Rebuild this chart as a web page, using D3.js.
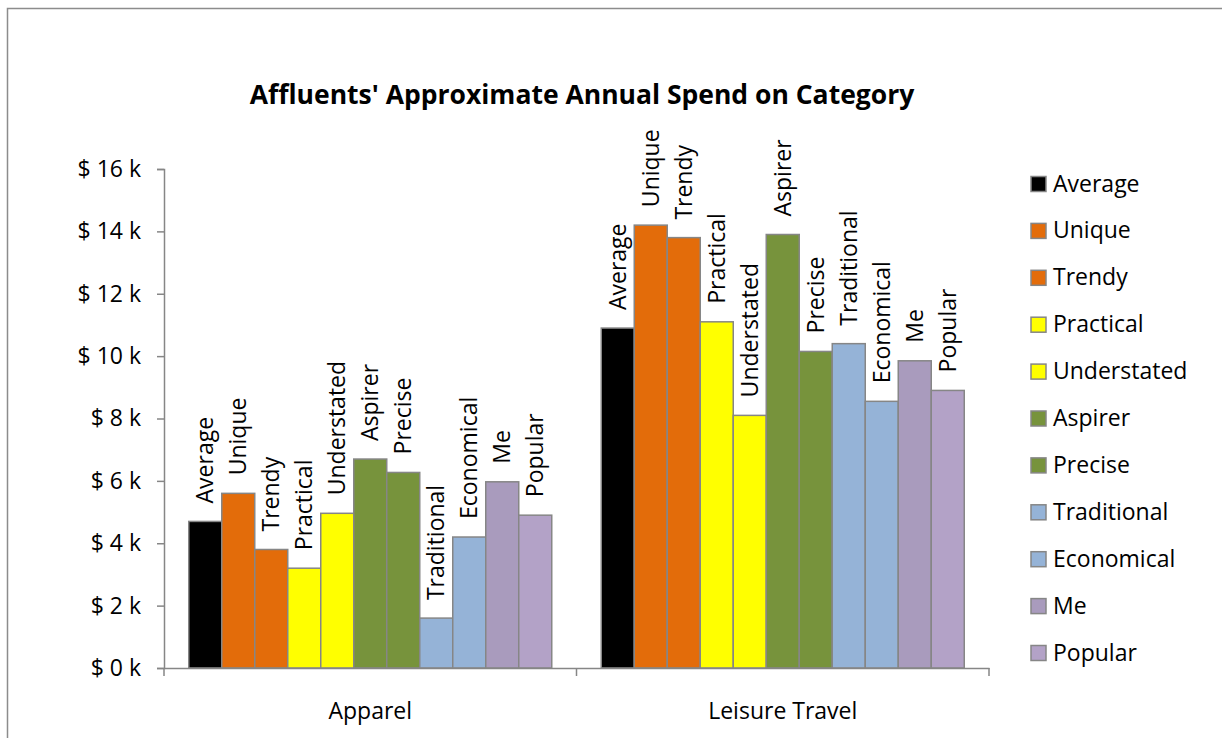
<!DOCTYPE html>
<html>
<head>
<meta charset="utf-8">
<script src="https://cdn.jsdelivr.net/npm/d3@7"></script>
<style>
  html, body { margin: 0; padding: 0; background: #fff; }
  svg { display: block; font-family: "Open Sans", "Noto Sans", sans-serif; }
</style>
</head>
<body>
<svg id="chart" width="1222" height="738"></svg>
<script>
// Spend per affluent segment, in thousands of dollars
const categories = ["Apparel", "Leisure Travel"];
const segments = ["Average", "Unique", "Trendy", "Practical", "Understated", "Aspirer",
                  "Precise", "Traditional", "Economical", "Me", "Popular"];
const apparelSpend = [4.7, 5.6, 3.8, 3.2, 4.96, 6.7, 6.27, 1.6, 4.2, 5.97, 4.9];
const leisureSpend = [10.9, 14.2, 13.8, 11.1, 8.1, 13.9, 10.15, 10.4, 8.55, 9.85, 8.9];
const segmentColors = ["#000000", "#E36C0A", "#E36C0A", "#FFFF00", "#FFFF00", "#77933C",
                       "#77933C", "#95B3D7", "#95B3D7", "#A99BBD", "#B3A2C7"];
const yTicks = [0, 2, 4, 6, 8, 10, 12, 14, 16];

const spendByCategory = [apparelSpend, leisureSpend];
const rows = [];
categories.forEach((c, ci) => {
  segments.forEach((s, si) => rows.push({ category: c, segment: s, value: spendByCategory[ci][si], color: segmentColors[si] }));
});

const svg = d3.select("#chart");
const axisGrey = "#868686";
const fontSize = 23;

// chart border
svg.append("rect")
  .attr("x", 7.5).attr("y", 8.5).attr("width", 1240).attr("height", 760)
  .attr("fill", "none").attr("stroke", "#8c8c8c").attr("stroke-width", 1.5);

// title
svg.append("text")
  .attr("x", 582).attr("y", 104)
  .attr("text-anchor", "middle")
  .attr("font-weight", "bold")
  .attr("font-size", 26.5)
  .attr("fill", "#000")
  .text("Affluents' Approximate Annual Spend on Category");

const x0 = d3.scaleBand().domain(categories).range([164, 989]).paddingInner(0).paddingOuter(0);
const x1 = d3.scaleBand().domain(segments).range([0, x0.bandwidth()]).paddingInner(0).paddingOuter(0.75);
const y = d3.scaleLinear().domain([0, 16]).range([668, 169]);

// y axis
const yAxis = d3.axisLeft(y).tickValues(yTicks).tickSize(7).tickPadding(16)
  .tickFormat(d => "$ " + d + " k");
const gy = svg.append("g").attr("transform", "translate(164,0)").call(yAxis);
gy.attr("font-size", fontSize).attr("font-family", "\"Open Sans\", sans-serif");
gy.select(".domain").attr("stroke", axisGrey).attr("stroke-width", 1.5);
gy.selectAll(".tick line").attr("stroke", axisGrey).attr("stroke-width", 1.5);
gy.selectAll(".tick text").attr("fill", "#000");

// bars
const bars = svg.append("g");
bars.selectAll("rect").data(rows).join("rect")
  .attr("x", d => x0(d.category) + x1(d.segment))
  .attr("y", d => y(d.value))
  .attr("width", x1.bandwidth())
  .attr("height", d => y(0) - y(d.value))
  .attr("fill", d => d.color)
  .attr("stroke", axisGrey)
  .attr("stroke-width", 1.5);

// rotated segment labels above each bar
svg.append("g").selectAll("text").data(rows).join("text")
  .attr("transform", d => {
    const cx = x0(d.category) + x1(d.segment) + x1.bandwidth() / 2;
    return `translate(${cx + 8},${y(d.value) - 18}) rotate(-90)`;
  })
  .attr("font-size", fontSize)
  .attr("fill", "#000")
  .text(d => d.segment);

// x axis
const xAxis = d3.axisBottom(x0).tickSize(0).tickPadding(35);
const gx = svg.append("g").attr("transform", "translate(0,668)").call(xAxis);
gx.attr("font-size", fontSize).attr("font-family", "\"Open Sans\", sans-serif");
gx.select(".domain").attr("stroke", axisGrey).attr("stroke-width", 1.5);
gx.selectAll(".tick text").attr("fill", "#000");
// category boundary ticks
const bounds = [164, ...categories.map(c => x0(c) + x0.bandwidth())];
gx.selectAll(".bound").data(bounds).join("line")
  .attr("x1", d => d).attr("x2", d => d)
  .attr("y1", 0).attr("y2", 8)
  .attr("stroke", axisGrey).attr("stroke-width", 1.5);

// legend
const legend = svg.append("g").attr("transform", "translate(1031,184)");
const item = legend.selectAll("g").data(segments).join("g")
  .attr("transform", (d, i) => `translate(0,${i * 46.9})`);
item.append("rect")
  .attr("x", 0).attr("y", -7.5).attr("width", 15).attr("height", 15)
  .attr("fill", (d, i) => segmentColors[i])
  .attr("stroke", axisGrey).attr("stroke-width", 1.5);
item.append("text")
  .attr("x", 22).attr("y", 7.5)
  .attr("font-size", fontSize)
  .attr("fill", "#000")
  .text(d => d);
</script>
</body>
</html>
